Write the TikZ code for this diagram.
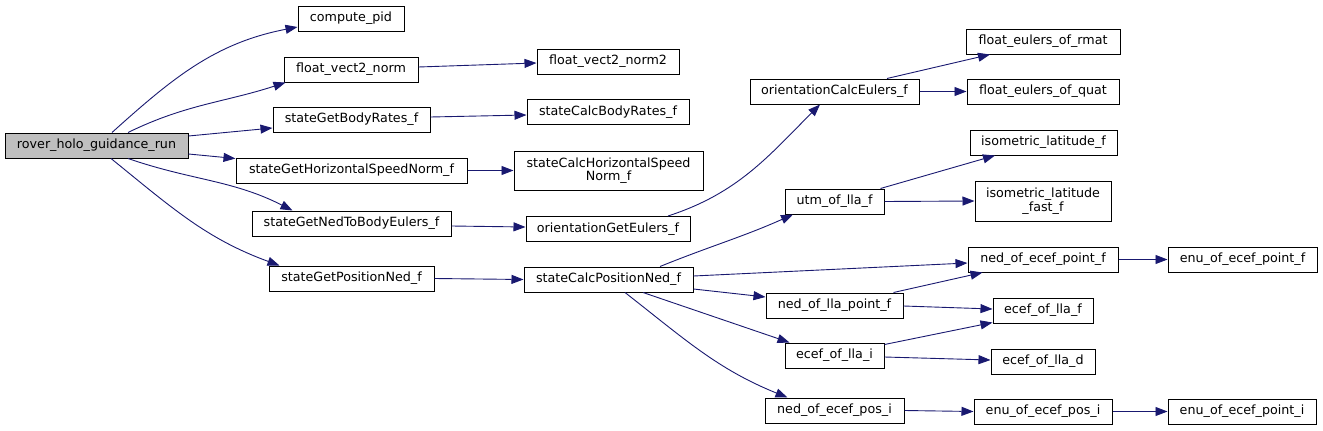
\documentclass[tikz,border=0pt]{standalone}
\usepackage{fontspec}
\setmainfont{DejaVu Sans}
\usetikzlibrary{arrows.meta}
\definecolor{edgeblue}{HTML}{191970}
\definecolor{rootgray}{HTML}{BFBFBF}
\begin{document}
\begin{tikzpicture}[x=1pt,y=-1pt,
  fn/.style={draw=black, line width=1pt, fill=white, inner sep=0pt, align=center,
    font=\fontsize{12.7}{13.5}\selectfont, minimum height=25pt},
  call/.style={draw=edgeblue, line width=0.9pt, -{Triangle[length=12pt,width=9pt]}}]
\useasboundingbox (0,0) rectangle (1323,431);
% column 0
\node[fn, fill=rootgray, minimum width=183pt] (root) at (96.5,145.5) {rover\_holo\_guidance\_run};
% column 1
\node[fn, minimum width=106pt] (cpid) at (351,18.5) {compute\_pid};
\node[fn, minimum width=134pt] (fvn) at (351,69.5) {float\_vect2\_norm};
\node[fn, minimum width=157pt] (sgbr) at (351.5,119.5) {stateGetBodyRates\_f};
\node[fn, minimum width=231pt] (sghs) at (351.5,170.5) {stateGetHorizontalSpeedNorm\_f};
\node[fn, minimum width=199pt] (sgnb) at (351.5,223.5) {stateGetNedToBodyEulers\_f};
\node[fn, minimum width=165pt] (sgpn) at (351.5,278.5) {stateGetPositionNed\_f};
% column 2
\node[fn, minimum width=142pt] (fvn2) at (608,61.5) {float\_vect2\_norm2};
\node[fn, minimum width=162pt] (scbr) at (608,112) {stateCalcBodyRates\_f};
\node[fn, minimum width=189pt, minimum height=39pt] (schs) at (608.5,170.5) {stateCalcHorizontalSpeed\\Norm\_f};
\node[fn, minimum width=164pt] (oge) at (608,229) {orientationGetEulers\_f};
\node[fn, minimum width=169pt] (scpn) at (608.5,279.5) {stateCalcPositionNed\_f};
% column 3
\node[fn, minimum width=169pt] (oce) at (834.5,91.5) {orientationCalcEulers\_f};
\node[fn, minimum width=99pt] (utm) at (834.5,201.5) {utm\_of\_lla\_f};
\node[fn, minimum width=137pt] (nlp) at (834.5,305.5) {ned\_of\_lla\_point\_f};
\node[fn, minimum width=99pt] (ecefi) at (834.5,355.5) {ecef\_of\_lla\_i};
\node[fn, minimum width=139pt] (nepi) at (834.5,410.5) {ned\_of\_ecef\_pos\_i};
% column 4
\node[fn, minimum width=154pt] (fer) at (1043,41.5) {float\_eulers\_of\_rmat};
\node[fn, minimum width=152pt] (feq) at (1043,91.5) {float\_eulers\_of\_quat};
\node[fn, minimum width=147pt] (isof) at (1043.5,142.5) {isometric\_latitude\_f};
\node[fn, minimum width=136pt, minimum height=40pt] (isofast) at (1043,201) {isometric\_latitude\\\_fast\_f};
\node[fn, minimum width=150pt] (nepf) at (1043,259.5) {ned\_of\_ecef\_point\_f};
\node[fn, minimum width=100pt] (eceff) at (1043,310.5) {ecef\_of\_lla\_f};
\node[fn, minimum width=104pt] (ecefd) at (1043,361.5) {ecef\_of\_lla\_d};
\node[fn, minimum width=138pt] (enupos) at (1043,411.5) {enu\_of\_ecef\_pos\_i};
% column 5
\node[fn, minimum width=149pt] (enuf) at (1242.5,259.5) {enu\_of\_ecef\_point\_f};
\node[fn, minimum width=148pt] (enui) at (1242,411.5) {enu\_of\_ecef\_point\_i};
% edges from root
\draw[call] ([xshift=15.5pt]root.north) to[out=42,in=191] ([yshift=-8.5pt]cpid.west);
\draw[call] ([xshift=31.5pt]root.north) to[out=26,in=198] ([xshift=2pt]fvn.south west);
\draw[call] ([yshift=9.5pt]root.east) -- ([yshift=-8.5pt]sgbr.west);
\draw[call] ([yshift=-8.5pt]root.east) -- ([yshift=-1pt]sghs.north west);
\draw[call] ([xshift=31.5pt]root.south) to[out=-19,in=153] ([xshift=41pt]sgnb.north west);
\draw[call] ([xshift=14.5pt]root.south) to[out=-39,in=160] ([xshift=11pt]sgpn.north west);
% column 1 -> 2
\draw[call] ([yshift=2.5pt]fvn.east) -- ([yshift=-1.5pt]fvn2.west);
\draw[call] ([yshift=2.5pt]sgbr.east) -- ([yshift=-3pt]scbr.west);
\draw[call] (sghs.east) -- (schs.west);
\draw[call] ([yshift=-2.5pt]sgnb.east) -- ([yshift=2pt]oge.west);
\draw[call] (sgpn.east) -- (scpn.west);
% column 2 -> 3
\draw[call] ([xshift=60pt]oge.north) to[out=18,in=225] ([xshift=-14.5pt]oce.south);
\draw[call] ([xshift=51.5pt]scpn.north) to[out=22,in=204] ([xshift=-41.5pt]utm.south);
\draw[call] ([yshift=-9.5pt]scpn.east) -- ([yshift=8.5pt]nlp.west);
\draw[call] ([xshift=34.5pt]scpn.south) -- ([xshift=5pt]ecefi.north west);
\draw[call] ([xshift=16.5pt]scpn.south) to[out=-38,in=158] ([xshift=23pt]nepi.north west);
\draw[call] ([yshift=3.5pt]scpn.east) -- ([yshift=-3.5pt]nepf.west);
% column 3 -> 4
\draw[call] ([xshift=52.5pt]oce.north) -- ([xshift=-53pt]fer.south);
\draw[call] (oce.east) -- (feq.west);
\draw[call] ([xshift=-4pt]utm.north east) -- ([xshift=-48.5pt]isof.south);
\draw[call] (utm.east) -- (isofast.west);
\draw[call] ([xshift=-10pt]nlp.north east) -- ([xshift=15pt]nepf.south west);
\draw[call] ([yshift=-0.5pt]nlp.east) -- ([yshift=1.5pt]eceff.west);
\draw[call] ([yshift=-2pt]ecefi.north east) -- ([yshift=1pt]eceff.south west);
\draw[call] ([yshift=-1.5pt]ecefi.east) -- ([yshift=1.5pt]ecefd.west);
\draw[call] (nepi.east) -- (enupos.west);
% column 4 -> 5
\draw[call] (nepf.east) -- (enuf.west);
\draw[call] (enupos.east) -- (enui.west);
\end{tikzpicture}
\end{document}
